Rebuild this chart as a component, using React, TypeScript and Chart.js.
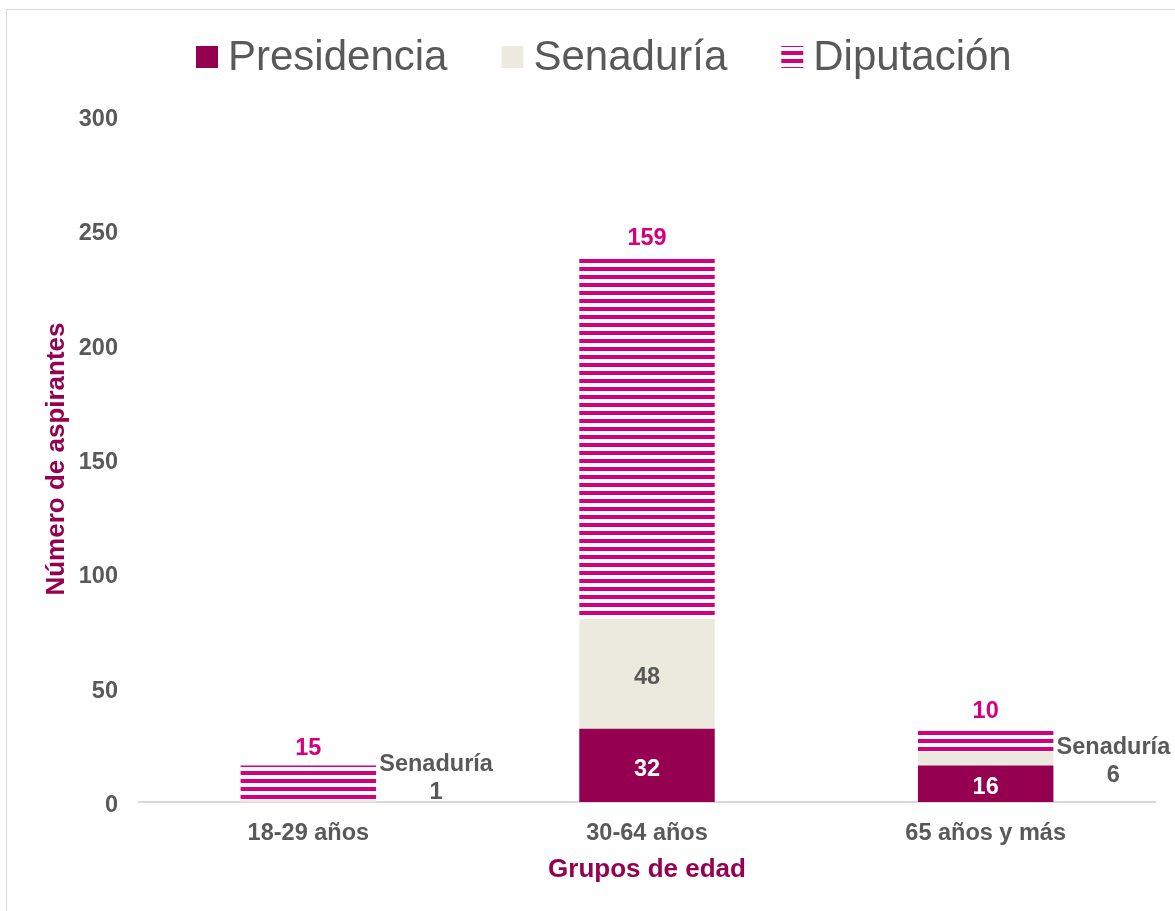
import React, { useEffect, useRef } from "react";
import { Chart, registerables } from "chart.js";

Chart.register(...registerables);

const categories = ["18-29 años", "30-64 años", "65 años y más"];
const presidencia = [0, 32, 16];
const senaduria = [1, 48, 6];
const diputacion = [15, 159, 10];
const yTicks = [0, 50, 100, 150, 200, 250, 300];
const seriesNames = ["Presidencia", "Senaduría", "Diputación"];

const C_PRES = "#960051";
const C_SEN = "#ECE9DF";
const C_DIP = "#D6007F";
const C_TEXT = "#595959";
const FONT = '"Liberation Sans", Arial, Helvetica, sans-serif';

function makeStripePattern(ctx: CanvasRenderingContext2D): CanvasPattern | string {
  const c = document.createElement("canvas");
  c.width = 8;
  c.height = 8;
  const g = c.getContext("2d");
  if (!g) return C_DIP;
  g.fillStyle = "#ffffff";
  g.fillRect(0, 0, 8, 8);
  g.fillStyle = C_DIP;
  g.fillRect(0, 3, 8, 4);
  const p = ctx.createPattern(c, "repeat");
  return p || C_DIP;
}

// shift a scale's tick labels vertically to match the reference text placement
function shiftLabels(scale: any, dy: number) {
  if (scale.__shifted) return;
  scale.__shifted = true;
  const orig = scale.drawLabels;
  scale.drawLabels = function (area: any) {
    const ctx = this.ctx as CanvasRenderingContext2D;
    ctx.save();
    ctx.translate(0, dy);
    orig.call(this, area);
    ctx.restore();
  };
}

export default function App() {
  const ref = useRef<HTMLCanvasElement | null>(null);

  useEffect(() => {
    const canvas = ref.current;
    if (!canvas) return;
    const ctx0 = canvas.getContext("2d")!;
    const stripes = makeStripePattern(ctx0);

    const legendPlugin = {
      id: "customLegend",
      afterDraw(chart: any) {
        const ctx = chart.ctx as CanvasRenderingContext2D;
        ctx.save();
        ctx.font = `42px ${FONT}`;
        ctx.textBaseline = "middle";
        ctx.textAlign = "left";
        const fills: any[] = [C_PRES, C_SEN, stripes];
        let x = 196;
        const cy = 57;
        seriesNames.forEach((name, i) => {
          ctx.fillStyle = fills[i];
          ctx.fillRect(x, cy - 11, 22, 22);
          ctx.fillStyle = C_TEXT;
          ctx.fillText(name, x + 32, cy + 1);
          x += 32 + ctx.measureText(name).width + 54;
        });
        ctx.restore();
      },
    };

    const labelPlugin = {
      id: "valueLabels",
      afterDatasetsDraw(chart: any) {
        const ctx = chart.ctx as CanvasRenderingContext2D;
        const yScale = chart.scales.y;
        ctx.save();
        ctx.font = `bold 23.5px ${FONT}`;
        ctx.textAlign = "center";
        ctx.textBaseline = "middle";
        chart.getDatasetMeta(0).data.forEach((bar: any, i: number) => {
          const v = presidencia[i];
          if (!v) return;
          ctx.fillStyle = "#ffffff";
          ctx.fillText(String(v), bar.x, (bar.y + bar.base) / 2 + 4);
        });
        chart.getDatasetMeta(1).data.forEach((bar: any, i: number) => {
          const v = senaduria[i];
          if (!v) return;
          const h = Math.abs(bar.base - bar.y);
          ctx.fillStyle = C_TEXT;
          if (h > 40) {
            ctx.fillText(String(v), bar.x, (bar.y + bar.base) / 2 + 4);
          } else {
            const x = bar.x + bar.width / 2 + 60;
            const y = Math.min((bar.y + bar.base) / 2, yScale.bottom - 26) + 3;
            ctx.fillText(seriesNames[1], x, y - 14);
            ctx.fillText(String(v), x, y + 14);
          }
        });
        chart.getDatasetMeta(2).data.forEach((bar: any, i: number) => {
          const v = diputacion[i];
          ctx.fillStyle = C_DIP;
          ctx.fillText(String(v), bar.x, bar.y - 17);
        });
        ctx.restore();
      },
    };

    const chart = new Chart(canvas, {
      type: "bar",
      data: {
        labels: categories,
        datasets: [
          { label: seriesNames[0], data: presidencia, backgroundColor: C_PRES },
          { label: seriesNames[1], data: senaduria, backgroundColor: C_SEN },
          { label: seriesNames[2], data: diputacion, backgroundColor: stripes as any },
        ],
      },
      options: {
        responsive: false,
        animation: false,
        devicePixelRatio: 1,
        datasets: {
          bar: { categoryPercentage: 1, barPercentage: 0.4, borderWidth: 0 },
        },
        layout: { padding: { top: 116, right: 20, left: 0, bottom: 0 } },
        plugins: {
          legend: { display: false },
          tooltip: { enabled: false },
        },
        scales: {
          x: {
            stacked: true,
            grid: { display: false, drawTicks: false },
            border: { display: true, color: "#D9D9D9", width: 2 },
            ticks: {
              color: C_TEXT,
              font: { family: FONT, size: 23.5, weight: "bold" },
              padding: 15,
            },
            title: {
              display: true,
              text: "Grupos de edad",
              color: C_PRES,
              font: { family: FONT, size: 26, weight: "bold" },
              padding: { top: 0, bottom: 26 },
            },
            afterFit(scale: any) {
              scale.height = 109;
              shiftLabels(scale, 2);
            },
          },
          y: {
            stacked: true,
            min: 0,
            max: 300,
            afterBuildTicks(scale: any) {
              scale.ticks = yTicks.map((v) => ({ value: v }));
            },
            grid: { display: false, drawTicks: false },
            border: { display: false },
            ticks: {
              color: C_TEXT,
              font: { family: FONT, size: 23.5, weight: "bold" },
              padding: 21,
            },
            title: {
              display: true,
              text: "Número de aspirantes",
              color: C_PRES,
              font: { family: FONT, size: 26, weight: "bold" },
              padding: { top: 41, bottom: 0 },
            },
            afterFit(scale: any) {
              scale.width = 139;
              shiftLabels(scale, 3.5);
            },
          },
        },
      } as any,
      plugins: [labelPlugin, legendPlugin],
    });
    return () => chart.destroy();
  }, []);

  return (
    <div
      style={{
        position: "fixed",
        left: 0,
        top: 0,
        width: 1175,
        height: 911,
        background: "#ffffff",
        overflow: "hidden",
      }}
    >
      <div
        style={{
          position: "absolute",
          left: 6,
          top: 9,
          width: 1250,
          height: 1000,
          border: "1px solid #D9D9D9",
          boxSizing: "border-box",
        }}
      />
      <canvas
        ref={ref}
        width={1175}
        height={911}
        style={{ position: "absolute", left: 0, top: 0, width: 1175, height: 911 }}
      />
    </div>
  );
}
